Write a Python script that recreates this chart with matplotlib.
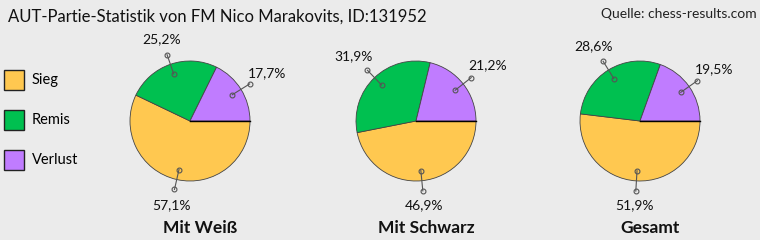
import numpy as np
import matplotlib
matplotlib.use('Agg')
import matplotlib.pyplot as plt
from matplotlib.patches import Rectangle

plt.rcParams['font.family'] = ['Lato', 'DejaVu Sans']

# Daten
categories = ['Sieg', 'Remis', 'Verlust']
colors = ['#ffc850', '#00c050', '#c07cff']
titles = ['Mit Weiß', 'Mit Schwarz', 'Gesamt']
weiss = [57.1, 25.2, 17.7]
schwarz = [46.9, 31.9, 21.2]
gesamt = [51.9, 28.6, 19.5]
all_values = [weiss, schwarz, gesamt]

W, H = 760, 240
fig = plt.figure(figsize=(W / 100, H / 100), dpi=100, facecolor='#ebebeb')

fig.text(8 / W, 1 - 17 / H, 'AUT-Partie-Statistik von FM Nico Marakovits, ID:131952',
         fontsize=12, va='center', ha='left', color='#111111')
fig.text(757 / W, 1 - 14 / H, 'Quelle: chess-results.com',
         fontsize=10, va='center', ha='right', color='#222222')

# Legende
for i, (cat, col) in enumerate(zip(categories, colors)):
    y = 70 + i * 40
    fig.patches.append(Rectangle((4 / W, 1 - (y + 20) / H), 20 / W, 20 / H,
                                 transform=fig.transFigure, facecolor=col,
                                 edgecolor='#222222', linewidth=1))
    fig.text(32 / W, 1 - (y + 10) / H, cat, fontsize=10.5, va='center', ha='left')

centers = [190, 416, 640]
cy = 121

for cx, values, title in zip(centers, all_values, titles):
    ax = fig.add_axes([(cx - 120) / W, (H - cy - 120) / H, 240 / W, 240 / H])
    ax.patch.set_visible(False)
    wedges, _ = ax.pie(values, colors=colors, startangle=0, counterclock=False,
                       radius=1, wedgeprops=dict(edgecolor='#444444', linewidth=0.6))
    ax.set_xlim(-2, 2)
    ax.set_ylim(-2, 2)
    ax.set_aspect('equal')
    ax.axis('off')
    ax.plot([0, 1], [0, 0], color='black', linewidth=1)
    for w, v in zip(wedges, values):
        ang = np.deg2rad((w.theta1 + w.theta2) / 2)
        c, s = np.cos(ang), np.sin(ang)
        ax.plot([0.83 * c, 1.17 * c], [0.83 * s, 1.17 * s], color='#555555', linewidth=0.8)
        ax.plot([0.83 * c, 1.17 * c], [0.83 * s, 1.17 * s], 'o', markersize=3.5,
                markerfacecolor='none', markeredgecolor='#555555', markeredgewidth=0.8)
        d = 1.4 + 0.14 * abs(c)
        label = f'{v:.1f}'.replace('.', ',') + '%'
        ax.text(d * c, d * s, label, ha='center', va='center', fontsize=10, color='#111111')
    fig.text((cx + 10) / W, 1 - 228 / H, title, fontsize=12.5, fontweight='bold',
             ha='center', va='center', color='#111111')

fig.savefig('out.png', dpi=100, facecolor=fig.get_facecolor())
